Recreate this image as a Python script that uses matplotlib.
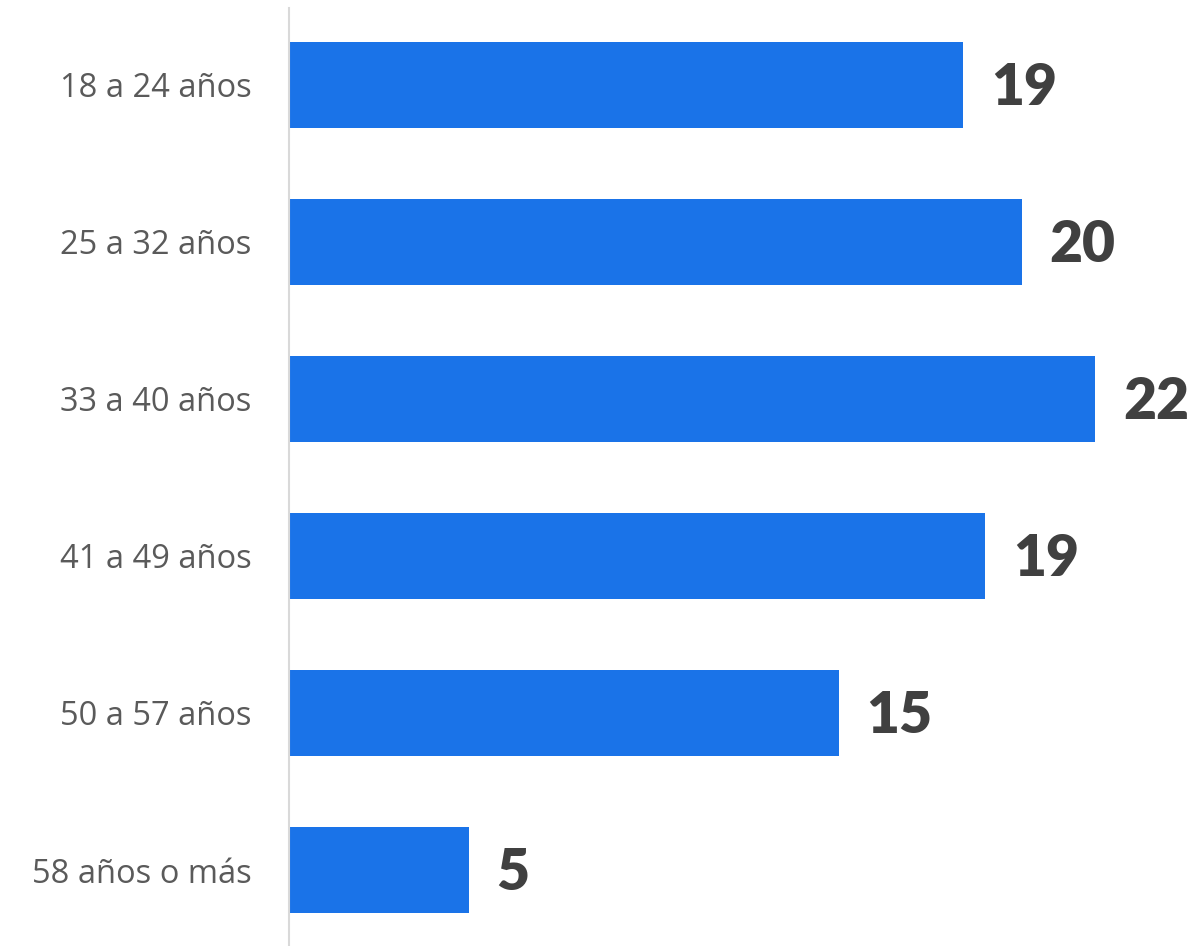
import matplotlib
matplotlib.use("Agg")
import matplotlib.pyplot as plt

# categorias y valores
categorias = ["18 a 24 años", "25 a 32 años", "33 a 40 años",
              "41 a 49 años", "50 a 57 años", "58 años o más"]
valores = [18.4, 20.0, 22.0, 19.0, 15.0, 4.9]
etiquetas = ["19", "20", "22", "19", "15", "5"]

azul = "#1a73e8"

fig = plt.figure(figsize=(11.91, 9.46), dpi=100)
ax = fig.add_axes([289 / 1191, 0, 1 - 289 / 1191, 1 - 8 / 946])

pos = list(range(len(categorias)))
ax.barh(pos, valores, height=0.55, color=azul)

for y, v, t in zip(pos, valores, etiquetas):
    ax.annotate(t, (v, y), xytext=(20, -2), textcoords="offset points",
                ha="left", va="center", fontsize=41, fontweight="heavy",
                color="#404040", family=["Lato", "DejaVu Sans"])

ax.set_xlim(0, (1191 - 289) / 36.64)
ax.set_ylim(len(categorias) - 0.516, -0.49)
ax.set_yticks(pos)
ax.set_yticklabels(categorias, fontsize=23.5, color="#5a5a5a",
                   family=["Open Sans", "DejaVu Sans"])
ax.tick_params(axis="y", length=0, pad=27)
ax.set_xticks([])

for s in ["top", "right", "bottom"]:
    ax.spines[s].set_visible(False)
ax.spines["left"].set_color("#d9d9d9")
ax.spines["left"].set_linewidth(1.5)

fig.savefig("out.png", dpi=100)
